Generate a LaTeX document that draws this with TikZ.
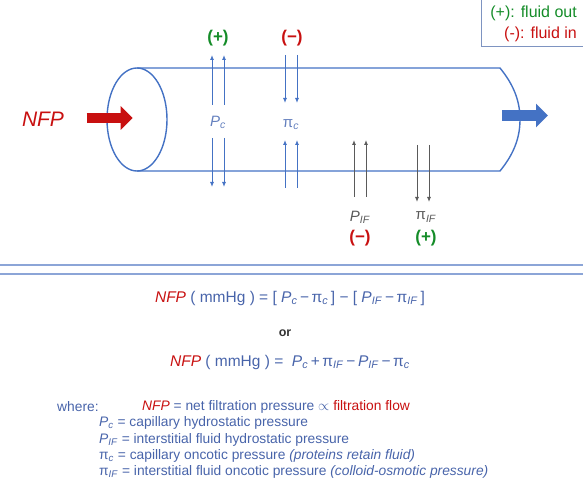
\documentclass[tikz,border=0pt]{standalone}
\usepackage{fontspec}
\setmainfont{Liberation Sans}
\usetikzlibrary{arrows.meta}

\definecolor{capblue}{RGB}{68,114,196}
\definecolor{labblue}{RGB}{100,128,190}
\definecolor{eqblue}{RGB}{72,100,170}
\definecolor{nfpred}{RGB}{200,16,16}
\definecolor{plgreen}{RGB}{20,140,40}
\definecolor{sepblue}{RGB}{140,165,215}
\definecolor{arrgray}{RGB}{90,90,90}

\newcommand{\hydC}{\textit{P}\textsubscript{\textit{c}}}
\newcommand{\hydIF}{\textit{P}\textsubscript{\textit{IF}}}
\newcommand{\oncC}{π\textsubscript{\textit{c}}}
\newcommand{\oncIF}{π\textsubscript{\textit{IF}}}
\newcommand{\nfp}{{\color{nfpred}\textit{NFP}}}

\begin{document}
\begin{tikzpicture}[x=1pt, y=-1pt,
    wall/.style={draw=capblue, line width=1.4pt},
    barr/.style={-{Latex[length=5pt,width=4pt]}, draw=capblue, line width=0.9pt},
    garr/.style={-{Latex[length=5pt,width=4pt]}, draw=arrgray, line width=0.9pt},
    fat/.style={-{Triangle[length=12pt,width=23pt]}, line width=10.6pt},
    sym/.style={inner sep=0pt, text=labblue, font=\fontsize{15}{17}\selectfont},
    sgn/.style={inner sep=0pt, font=\fontsize{17}{19}\selectfont\bfseries},
    eq/.style={inner sep=0pt, text=eqblue, font=\fontsize{15.5}{18}\selectfont},
    txt/.style={inner sep=0pt, anchor=west, text=eqblue, font=\fontsize{13.8}{16}\selectfont},
]
\useasboundingbox (0,0) rectangle (583,486);

% capillary
\draw[wall] (137,119.5) ellipse [x radius=30, y radius=51.5];
\draw[wall] (137,68) -- (500,68)
    .. controls (513,84) and (520,100) .. (520,119.5)
    .. controls (520,139) and (513,155) .. (500,171) -- (137,171);

% flow in / out
\node[inner sep=0pt, text=nfpred, font=\fontsize{21}{24}\selectfont\itshape] (nfp) at (43,119) {NFP};
\coordinate (inA) at (86.7,118);
\coordinate (inB) at (132.7,118);
\draw[fat, nfpred] (inA) -- (inB);
\coordinate (outA) at (502,115.5);
\coordinate (outB) at (548,115.5);
\draw[fat, capblue] (outA) -- (outB);

% pressures
\node[sym] (pc)   at (218,122) {\hydC};
\node[sym] (pic)  at (291,125) {\oncC};
\node[sym, text=arrgray] (pif)  at (360,217) {\hydIF};
\node[sym, text=arrgray] (piif) at (426,217) {\oncIF};

\node[sgn, text=plgreen] (sgnA) at (218,38) {(+)};
\node[sgn, text=nfpred]  (sgnB) at (292,38) {(−)};
\node[sgn, text=nfpred]  (sgnC) at (360,238) {(−)};
\node[sgn, text=plgreen] (sgnD) at (426,238) {(+)};

\foreach \dx in {-6,6} {
    \draw[barr] ([xshift=\dx pt]pc.center) ++(0,-17) -- ++(0,-50);
    \draw[barr] ([xshift=\dx pt]pc.center) ++(0,16) -- ++(0,49);
    \draw[barr] ([xshift=\dx pt]pic.center) ++(0,-70) -- ++(0,48);
    \draw[barr] ([xshift=\dx pt]pic.center) ++(0,63) -- ++(0,-48);
    \draw[garr] ([xshift=\dx pt]pif.center) ++(0,-20) -- ++(0,-57);
}
\foreach \dx in {-9,3}
    \draw[garr] ([xshift=\dx pt]piif.center) ++(0,-72) -- ++(0,57);

% legend
\draw[draw=sepblue!90!black, line width=1pt] (481,-2) rectangle (585,47);
\node[inner sep=0pt, anchor=east, text=plgreen, font=\fontsize{16}{18}\selectfont] (lgA) at (577,13) {(+): fluid out};
\node[inner sep=0pt, anchor=east, text=nfpred, font=\fontsize{16}{18}\selectfont] (lgB) at (577,34) {(-): fluid in};

% separator
\draw[sepblue, line width=1.8pt] (0,265) -- (583,265);
\draw[sepblue, line width=1.8pt] (0,274) -- (583,274);

% equations
\node[eq] (eqA) at (290,298) {\nfp\ ( mmHg ) = [ \hydC\,−\,\oncC\,] − [ \hydIF\,−\,\oncIF\,]};
\node[inner sep=0pt, font=\fontsize{12.5}{14}\selectfont\bfseries, text=black!80] (or) at (285,333) {or};
\node[eq] (eqB) at (290,362) {\nfp\ ( mmHg ) = \ \hydC\,+\,\oncIF\,−\,\hydIF\,−\,\oncC};

% where
\node[txt] (where) at (57,407) {where:};
\node[txt] (defA) at (142,407) {\nfp\ = net filtration pressure $\propto$ {\color{nfpred}filtration flow}};
\node[txt] (defB) at (99,423) {\hydC\ = capillary hydrostatic pressure};
\node[txt] (defC) at (99,440) {\hydIF\ = interstitial fluid hydrostatic pressure};
\node[txt] (defD) at (99,456) {\oncC\ = capillary oncotic pressure \textit{(proteins retain fluid)}};
\node[txt] (defE) at (99,472) {\oncIF\ = interstitial fluid oncotic pressure \textit{(colloid-osmotic pressure)}};

\end{tikzpicture}
\end{document}
